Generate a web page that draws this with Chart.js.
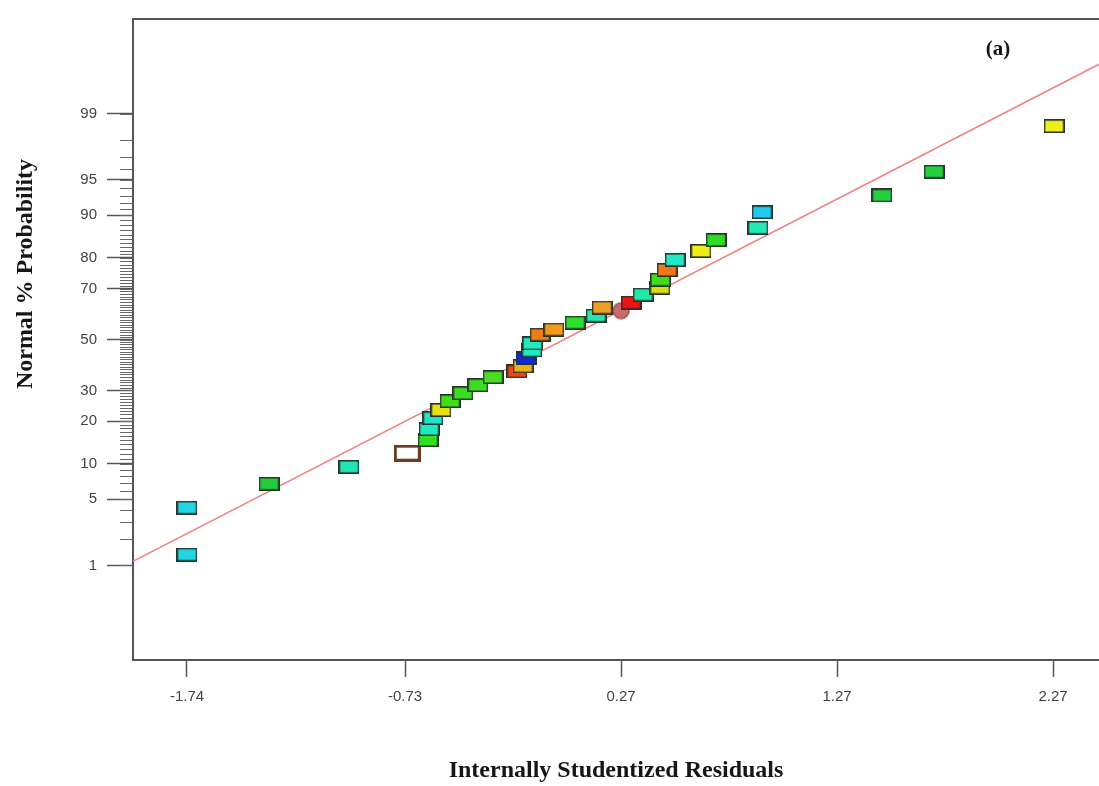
<!DOCTYPE html>
<html><head><meta charset="utf-8">
<script src="https://cdn.jsdelivr.net/npm/chart.js@4.4.1/dist/chart.umd.min.js"></script>
<style>html,body{margin:0;padding:0;background:#fff;overflow:hidden}canvas{display:block}</style>
</head><body>
<canvas id="c" width="1099" height="786"></canvas>
<script>
// ---- data ----
const residuals = [-1.74,-1.74,-1.36,-0.99,-0.72,-0.624,-0.619,-0.601,-0.564,-0.522,-0.462,-0.393,-0.323,-0.212,-0.184,-0.170,-0.143,-0.140,-0.105,-0.041,0.057,0.154,0.182,0.270,0.316,0.372,0.450,0.452,0.483,0.520,0.640,0.710,0.904,0.923,1.478,1.719,2.275];
const probabilities = [1.34,4.17,6.87,9.49,12.1,15.0,17.8,20.9,23.4,26.3,29.0,31.9,34.9,37.1,39.1,42.3,45.5,48.4,52.0,54.1,56.9,59.7,62.9,61.7,64.8,67.8,70.3,73.1,76.3,79.4,81.9,84.7,87.5,90.5,93.1,95.8,98.6];
const pointColors = ['#22d4e4','#22d4e4','#22cc3a','#22e6b0','#ffffff','#33dd22','#22e8c0','#22e4cc','#e8e010','#44dd18','#3cdc22','#3cdc22','#4cdc22','#ee4418','#eeb018','#1428cc','#22e8c0','#22e8c0','#f07c18','#f09a20','#30dc30','#22e8b0','#f0a020','#c86c6c','#ee1414','#22e8a8','#dcdc14','#40dc18','#f07818','#22e8c8','#eeee14','#30dc22','#22e8b4','#22c8ee','#22d040','#22d040','#eeee1c'];
const pointShapes = probabilities.map((_, i) => i === 4 ? 'hollow' : (i === 23 ? 'circle' : 'box'));
const xTickValues = [-1.74,-0.73,0.27,1.27,2.27];
const yTickLabels = [1,5,10,20,30,50,70,80,90,95,99];
const lineResiduals = [-1.99, 2.483];
const lineProbabilities = [1.12, 99.77];

// inverse normal CDF (probit)
function probit(p){
 const a=[-3.969683028665376e+01,2.209460984245205e+02,-2.759285104469687e+02,1.383577518672690e+02,-3.066479806614716e+01,2.506628277459239e+00];
 const b=[-5.447609879822406e+01,1.615858368580409e+02,-1.556989798598866e+02,6.680131188771972e+01,-1.328068155288572e+01];
 const c=[-7.784894002430293e-03,-3.223964580411365e-01,-2.400758277161838e+00,-2.549732539343734e+00,4.374664141464968e+00,2.938163982698783e+00];
 const d=[7.784695709041462e-03,3.224671290700398e-01,2.445134137142996e+00,3.754408661907416e+00];
 const pl=0.02425, ph=1-pl; let q,r;
 if(p<pl){q=Math.sqrt(-2*Math.log(p));return (((((c[0]*q+c[1])*q+c[2])*q+c[3])*q+c[4])*q+c[5])/((((d[0]*q+d[1])*q+d[2])*q+d[3])*q+1);}
 if(p<=ph){q=p-0.5;r=q*q;return (((((a[0]*r+a[1])*r+a[2])*r+a[3])*r+a[4])*r+a[5])*q/(((((b[0]*r+b[1])*r+b[2])*r+b[3])*r+b[4])*r+1);}
 q=Math.sqrt(-2*Math.log(1-p));return -(((((c[0]*q+c[1])*q+c[2])*q+c[3])*q+c[4])*q+c[5])/((((d[0]*q+d[1])*q+d[2])*q+d[3])*q+1);
}

// marker images
const markerCache = {};
function marker(shape, color){
  const key = shape + color;
  if (markerCache[key]) return markerCache[key];
  const cv = document.createElement('canvas');
  const g = cv.getContext('2d');
  if (shape === 'box') {
    cv.width = 21; cv.height = 14;
    g.fillStyle = color; g.fillRect(0,0,21,14);
    g.strokeStyle = '#23332a'; g.lineWidth = 1.6; g.strokeRect(0.8,0.8,19.4,12.4);
  } else if (shape === 'hollow') {
    cv.width = 27; cv.height = 17;
    g.fillStyle = '#ffffff'; g.fillRect(0,0,27,17);
    g.strokeStyle = '#6e3c22'; g.lineWidth = 3; g.strokeRect(1.5,1.5,24,14);
  } else {
    cv.width = 18; cv.height = 18;
    g.beginPath(); g.arc(9,9,8,0,Math.PI*2);
    g.fillStyle = color; g.fill();
    g.strokeStyle = '#8a3c3c'; g.lineWidth = 1.2; g.stroke();
  }
  markerCache[key] = cv;
  return cv;
}

const pts = residuals.map((r, i) => ({x: r, y: probit(probabilities[i] / 100)}));
const linePts = lineResiduals.map((r, i) => ({x: r, y: probit(lineProbabilities[i] / 100)}));

const decor = {
  id: 'decor',
  beforeDatasetsDraw(chart) {
    const {ctx, chartArea: ca, scales} = chart;
    ctx.save();
    // top frame line
    ctx.strokeStyle = '#555'; ctx.lineWidth = 2;
    ctx.beginPath(); ctx.moveTo(ca.left - 1, ca.top); ctx.lineTo(ca.right + 2, ca.top); ctx.stroke();
    // minor ticks at each integer percent
    ctx.strokeStyle = '#666'; ctx.lineWidth = 1;
    for (let p = 1; p <= 99; p++) {
      const y = Math.round(scales.y.getPixelForValue(probit(p / 100))) + 0.5;
      ctx.beginPath(); ctx.moveTo(ca.left - 13, y); ctx.lineTo(ca.left, y); ctx.stroke();
    }
    ctx.restore();
  },
  afterDraw(chart) {
    const {ctx} = chart;
    ctx.save();
    ctx.fillStyle = '#161616';
    ctx.font = 'bold 24px "Liberation Serif", "Times New Roman", serif';
    ctx.textAlign = 'center'; ctx.textBaseline = 'middle';
    ctx.translate(26, 274); ctx.rotate(-Math.PI / 2);
    ctx.fillText('Normal % Probability', 0, 0);
    ctx.restore();
    ctx.save();
    ctx.fillStyle = '#161616';
    ctx.font = 'bold 21px "Liberation Serif", "Times New Roman", serif';
    ctx.textAlign = 'center'; ctx.textBaseline = 'middle';
    ctx.fillText('(a)', 998, 50);
    ctx.restore();
  }
};

new Chart(document.getElementById('c'), {
  type: 'scatter',
  data: {
    datasets: [
      { label: 'fit', data: linePts, showLine: true, borderColor: '#f08484', borderWidth: 1.6, pointRadius: 0, order: 2 },
      { label: 'residuals', data: pts, order: 1,
        pointStyle: ctx => marker(pointShapes[ctx.dataIndex], pointColors[ctx.dataIndex]),
        pointRadius: 10, borderWidth: 0 }
    ]
  },
  options: {
    responsive: false, animation: false,
    layout: { autoPadding: false, padding: { top: 15, left: 0, right: 0, bottom: 0 } },
    plugins: { legend: { display: false }, tooltip: { enabled: false } },
    scales: {
      x: {
        type: 'linear', min: -1.99, max: 2.483,
        afterBuildTicks: s => { s.ticks = xTickValues.map(v => ({value: v})); },
        afterFit: s => { s.height = 126; },
        ticks: { autoSkip: false, maxRotation: 0, padding: 11, color: '#444',
          font: { family: '"Liberation Sans", Arial, sans-serif', size: 15 },
          callback: (v, i) => xTickValues[i].toFixed(2) },
        grid: { drawOnChartArea: false, drawTicks: true, tickLength: 17, tickColor: '#555', tickWidth: 1.5 },
        border: { display: true, color: '#555', width: 2 },
        title: { display: true, text: 'Internally Studentized Residuals', color: '#161616',
          font: { family: '"Liberation Serif", "Times New Roman", serif', weight: 'bold', size: 24 },
          padding: { top: 0, bottom: 1 } }
      },
      y: {
        type: 'linear', min: -3.3, max: 3.3,
        afterBuildTicks: s => { s.ticks = yTickLabels.map(p => ({value: probit(p / 100)})); },
        afterFit: s => { s.width = 133; },
        ticks: { autoSkip: false, padding: 10, color: '#444',
          font: { family: '"Liberation Sans", Arial, sans-serif', size: 15 },
          callback: (v, i) => String(yTickLabels[i]) },
        grid: { drawOnChartArea: false, drawTicks: true, tickLength: 26, tickColor: '#555', tickWidth: 1.5 },
        border: { display: true, color: '#555', width: 2 }
      }
    }
  },
  plugins: [decor]
});
</script>
</body></html>
